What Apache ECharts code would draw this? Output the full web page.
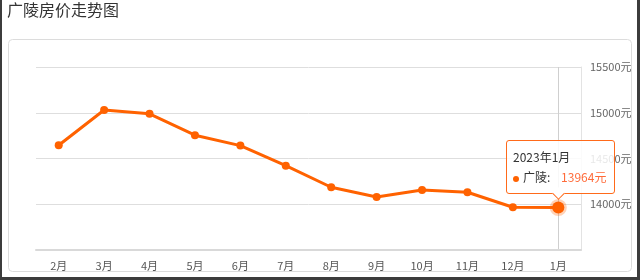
<!DOCTYPE html>
<html>
<head>
<meta charset="utf-8">
<script src="https://cdn.jsdelivr.net/npm/echarts@6/dist/echarts.min.js"></script>
<style>
html,body{margin:0;padding:0;background:#fff;}
#wrap{position:relative;width:640px;height:280px;overflow:hidden;}
#chart{position:absolute;left:0;top:0;width:640px;height:280px;}
#frame{position:absolute;left:0;top:-4px;width:640px;height:284px;box-sizing:border-box;border:3px solid #3c3c3c;border-left-width:2px;pointer-events:none;}
</style>
</head>
<body>
<div id="wrap"><div id="chart"></div><div id="frame"></div></div>
<script>
const titleText = '广陵房价走势图';
const seriesName = '广陵';
const categories = ['2月','3月','4月','5月','6月','7月','8月','9月','10月','11月','12月','1月'];
const prices = [14645, 15030, 14988, 14755, 14641, 14422, 14186, 14080, 14156, 14131, 13967, 13964];
const tipTitles = ['2022年2月','2022年3月','2022年4月','2022年5月','2022年6月','2022年7月','2022年8月','2022年9月','2022年10月','2022年11月','2022年12月','2023年1月'];
const yMin = 13500, yMax = 15500, yStep = 500;
const unit = '元';

const lineColor = '#ff6200';
const font = '"Noto Sans CJK SC", "Noto Sans", sans-serif';

const data = prices.map((v, i) => i === prices.length - 1
  ? {value: v, symbolSize: 11, itemStyle: {borderColor: 'rgba(255,98,0,0.28)', borderWidth: 5}}
  : v);

const chart = echarts.init(document.getElementById('chart'), null, {renderer: 'canvas'});
chart.setOption({
  animation: false,
  textStyle: {fontFamily: font},
  title: {
    text: titleText, left: 7, top: 2, padding: 0,
    textStyle: {fontSize: 16, fontWeight: 'normal', color: '#333', fontFamily: font}
  },
  graphic: [{
    type: 'rect', silent: true, z: -10,
    shape: {x: 8.5, y: 39.5, width: 623, height: 232, r: 4},
    style: {fill: 'none', stroke: '#dcdcdc', lineWidth: 1}
  }],
  grid: {left: 36, right: 59, top: 67, bottom: 30, containLabel: false},
  tooltip: {
    trigger: 'axis',
    alwaysShowContent: true,
    transitionDuration: 0,
    showDelay: 0,
    backgroundColor: 'rgba(255,255,255,0.85)',
    borderColor: '#ff6a1a',
    borderWidth: 1,
    padding: 0,
    extraCssText: 'box-shadow:none;border-radius:3px;overflow:visible;',
    axisPointer: {type: 'line', lineStyle: {color: '#cfcfcf', width: 1, type: 'solid'}, z: 0},
    position: function () { return [506, 140]; },
    formatter: function (params) {
      const p = params[0];
      return '<div style="position:relative;width:95px;height:40px;padding:6px 6px 6px 6px;font-family:' + font.replace(/"/g, "'") + ';font-size:12px;line-height:20px;color:#333;">' +
        '<div>' + tipTitles[p.dataIndex] + '</div>' +
        '<div style="white-space:nowrap;"><span style="display:inline-block;width:6px;height:6px;border-radius:3px;background:' + lineColor + ';margin-right:4px;vertical-align:middle;"></span>' +
        seriesName + ':&nbsp;&nbsp;&nbsp;&nbsp;<span style="color:#ff6b3a;">' + p.value + unit + '</span></div>' +
        '<div style="position:absolute;left:47px;bottom:-5px;width:8px;height:8px;background:#fff;border-right:1px solid #ff6a1a;border-bottom:1px solid #ff6a1a;transform:rotate(45deg);"></div>' +
        '</div>';
    }
  },
  xAxis: {
    type: 'category',
    data: categories,
    boundaryGap: true,
    axisLine: {lineStyle: {color: '#d9d9d9', width: 2}},
    axisTick: {alignWithLabel: true, length: 4, lineStyle: {color: '#cccccc'}},
    axisLabel: {color: '#555', fontSize: 11, margin: 10, fontFamily: font},
    splitLine: {show: false}
  },
  yAxis: {
    type: 'value',
    position: 'right',
    min: yMin, max: yMax, interval: yStep,
    axisLine: {show: true, lineStyle: {color: '#e3e3e3', width: 1}},
    axisTick: {show: false},
    axisLabel: {
      color: '#666', fontSize: 11, margin: 9, fontFamily: font,
      showMinLabel: false,
      formatter: v => v + unit
    },
    splitLine: {lineStyle: {color: '#dedede', width: 1}}
  },
  series: [{
    name: seriesName,
    type: 'line',
    data: data,
    symbol: 'circle',
    symbolSize: 8,
    showSymbol: true,
    lineStyle: {color: lineColor, width: 3},
    itemStyle: {color: lineColor},
    emphasis: {disabled: true},
    z: 3
  }]
});
chart.dispatchAction({type: 'showTip', seriesIndex: 0, dataIndex: categories.length - 1});
</script>
</body>
</html>
